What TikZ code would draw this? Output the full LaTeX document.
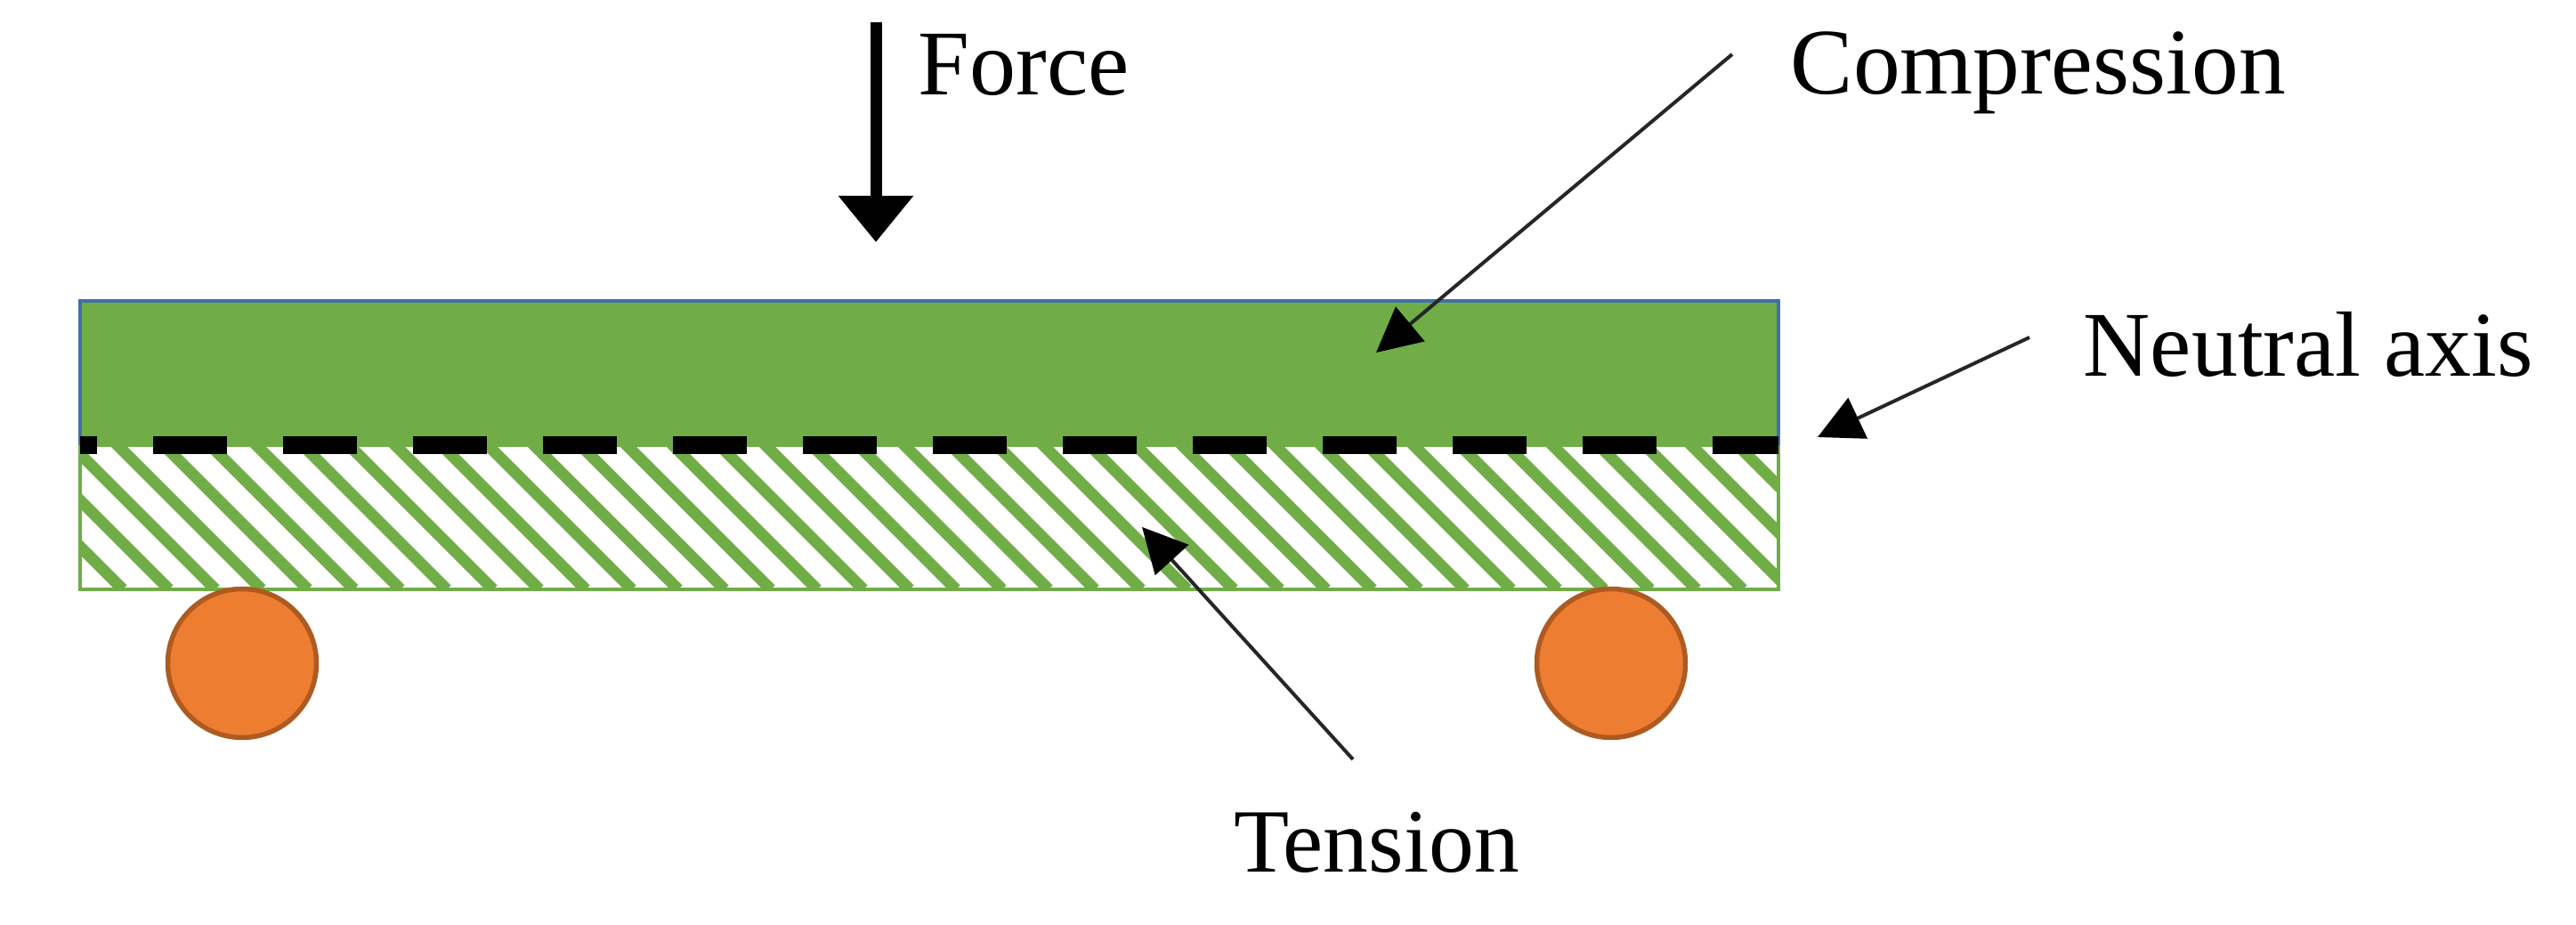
\documentclass[tikz,border=0pt]{standalone}
\usepackage{fontspec}
\setmainfont{Liberation Serif}
\usepackage{xcolor}
\usetikzlibrary{arrows.meta}
\definecolor{beamgreen}{HTML}{70AD47}
\definecolor{beamblue}{HTML}{4170A8}
\definecolor{rollfill}{HTML}{ED7D31}
\definecolor{rollline}{HTML}{AE5A21}

\begin{document}
\begin{tikzpicture}[
		lab/.style={
			anchor=base west,
			inner sep=0pt,
			font=\fontsize{29.6pt}{32pt}\selectfont
		},
		layer/.style={
			minimum width=19.08cm,
			minimum height=1.62cm,
			inner sep=0pt,
			outer sep=0pt
		},
		roller/.style={
			draw=rollline,
			fill=rollfill,
			circle,
			line width=0.055cm,
			minimum size=1.67cm,
			inner sep=0pt
		},
		pointer/.style={
			-{Triangle[length=0.5cm,width=0.5cm,color=black]},
			line width=0.04cm,
			black!85
		},
		load/.style={
			-{Triangle[length=0.52cm,width=0.81cm]},
			line width=0.13cm
		}
		]
		
		\useasboundingbox (0,0) rectangle (28.94,10.39);
		
		\node[layer, fill=white] at (10.44, 4.58) (tens) {};
		\begin{scope}
		\clip (tens.south west) rectangle (tens.north east);
		\foreach \k in {0,...,41}
			\draw[beamgreen, line width=0.13cm] ({1.38+0.52*\k},3.77) -- ++(-1.8,1.8);
		\end{scope}
		\draw[beamgreen, line width=0.045cm] (tens.south west) rectangle (tens.north east);
		
		\node[layer, fill=beamgreen] at (10.44, 6.20) (comp) {};
		\draw[beamblue, line width=0.035cm] (comp.south west) -- (comp.north west) -- (comp.north east) -- (comp.south east);
		\draw[line width=0.2cm, dash pattern=on 0.83cm off 0.63cm, dash phase=0.64cm] (comp.south west) -- (comp.south east);
		
		\node[roller] at (2.72, 2.94) (r1) {};
		\node[roller] at (18.10, 2.94) (r2) {};
		
		\node[lab] at (10.31, 9.32) (force) {Force};
		\node[lab, font=\fontsize{30pt}{32pt}\selectfont] at (20.11, 9.33) (compl) {Compression};
		\node[lab] at (23.40, 6.16) (neut) {Neutral axis};
		\node[lab, font=\fontsize{28.9pt}{32pt}\selectfont] at (13.86, 0.59) (tensl) {Tension};
		
		\coordinate (f0) at (9.84, 10.14);
		\coordinate (f1) at (9.84, 7.67);
		\coordinate (c0) at (19.46, 9.78);
		\coordinate (c1) at (15.46, 6.43);
		\coordinate (n0) at (22.80, 6.60);
		\coordinate (n1) at (20.42, 5.48);
		\coordinate (t0) at (15.20, 1.86);
		\coordinate (t1) at (12.83, 4.47);
		
		\draw[load] (f0) -- (f1);
		\draw[pointer] (c0) -- (c1);
		\draw[pointer] (n0) -- (n1);
		\draw[pointer] (t0) -- (t1);
		
		\end{tikzpicture}
\end{document}
